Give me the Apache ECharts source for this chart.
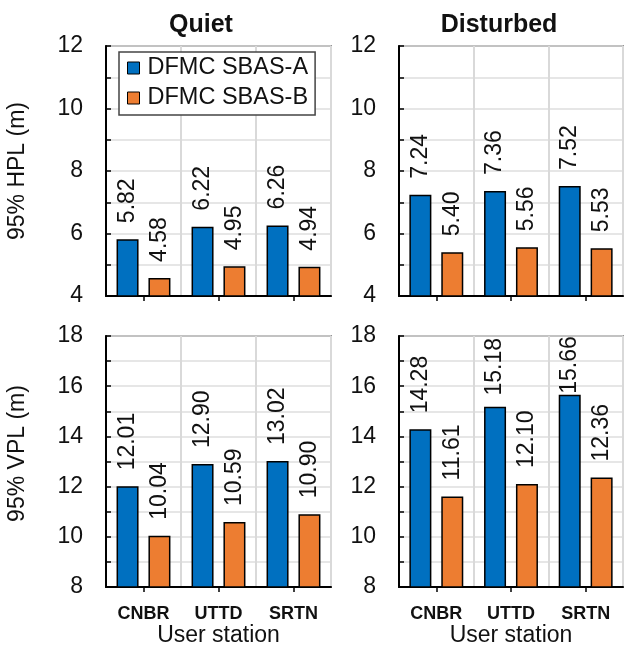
<!DOCTYPE html>
<html>
<head>
<meta charset="utf-8">
<script src="https://cdn.jsdelivr.net/npm/echarts@6/dist/echarts.min.js"></script>
<style>
html,body{margin:0;padding:0;background:#fff;}
#chart{width:625px;height:652px;}
</style>
</head>
<body>
<div id="chart"></div>
<script>
// ---- data ----
const stations = ['CNBR', 'UTTD', 'SRTN'];
const seriesNames = ['DFMC SBAS-A', 'DFMC SBAS-B'];
const panelTitles = ['Quiet', 'Disturbed'];
const quietHplA = [5.82, 6.22, 6.26];
const quietHplB = [4.58, 4.95, 4.94];
const disturbedHplA = [7.24, 7.36, 7.52];
const disturbedHplB = [5.40, 5.56, 5.53];
const quietVplA = [12.01, 12.90, 13.02];
const quietVplB = [10.04, 10.59, 10.90];
const disturbedVplA = [14.28, 15.18, 15.66];
const disturbedVplB = [11.61, 12.10, 12.36];
const hplTicks = [4, 6, 8, 10, 12];
const vplTicks = [8, 10, 12, 14, 16, 18];
const yNames = ['95% HPL (m)', '95% VPL (m)'];
const xName = 'User station';

const FONT = '"Liberation Sans", Arial, sans-serif';
const BLUE = '#0070C0';
const ORANGE = '#ED7D31';
const LABEL_SIZE = 23;
const LABEL_DIST = 16;

const grids = [
  {left: 106, top: 46, width: 225, height: 250},
  {left: 399, top: 46, width: 224, height: 250},
  {left: 106, top: 336, width: 225, height: 251},
  {left: 399, top: 336, width: 224, height: 251}
];

const panelData = [
  [quietHplA, quietHplB],
  [disturbedHplA, disturbedHplB],
  [quietVplA, quietVplB],
  [disturbedVplA, disturbedVplB]
];

const fmt = v => v.toFixed(2);

const xAxes = [], yAxes = [], series = [];
grids.forEach((g, i) => {
  const bottomRow = i >= 2;
  xAxes.push({
    type: 'category', gridIndex: i, data: stations,
    axisLine: {show: true, lineStyle: {color: '#000', width: 2}},
    axisTick: {show: true, alignWithLabel: true, inside: false, length: 5, lineStyle: {color: '#000', width: 1.5}},
    axisLabel: {show: bottomRow, margin: 18, fontFamily: FONT, fontSize: 18, fontWeight: 'bold', color: '#111'},
    splitLine: {show: true, lineStyle: {color: '#d9d9d9', width: 2}},
    name: bottomRow ? xName : '', nameLocation: 'middle', nameGap: 32,
    nameTextStyle: {fontFamily: FONT, fontSize: 23, color: '#111'}
  });
  const ticks = bottomRow ? vplTicks : hplTicks;
  yAxes.push({
    type: 'value', gridIndex: i,
    min: ticks[0], max: ticks[ticks.length - 1], interval: 1,
    axisLine: {show: true, lineStyle: {color: '#000', width: 2}},
    axisTick: {show: true, inside: true, length: 5, lineStyle: {color: '#000', width: 1.5}},
    axisLabel: {margin: 23, fontFamily: FONT, fontSize: 23, color: '#111',
      formatter: v => ticks.indexOf(v) >= 0 ? String(v) : ''},
    splitLine: {show: true, lineStyle: {color: '#dedede', width: 1.5}},
    name: (i % 2 === 0) ? yNames[bottomRow ? 1 : 0] : '',
    nameLocation: 'middle', nameGap: 77,
    nameTextStyle: {fontFamily: FONT, fontSize: 23, color: '#111',
      padding: bottomRow ? [0, 0, 0, 16] : 0}
  });
  panelData[i].forEach((vals, k) => {
    series.push({
      type: 'bar', name: seriesNames[k], xAxisIndex: i, yAxisIndex: i,
      data: vals.slice(), barWidth: 22, barGap: '45%',
      itemStyle: {color: k === 0 ? BLUE : ORANGE, borderColor: '#000', borderWidth: 1.5},
      label: {show: true, position: 'top', distance: LABEL_DIST, rotate: 90, align: 'left', verticalAlign: 'middle',
        fontFamily: FONT, fontSize: LABEL_SIZE, color: '#111', formatter: p => fmt(p.value)}
    });
  });
});

const chart = echarts.init(document.getElementById('chart'), null, {renderer: 'canvas'});
chart.setOption({
  animation: false,
  backgroundColor: '#fff',
  title: [
    {text: panelTitles[0], left: 196, top: 8, textAlign: 'center',
      textStyle: {fontFamily: FONT, fontSize: 25, fontWeight: 'bold', color: '#111'}},
    {text: panelTitles[1], left: 494, top: 8, textAlign: 'center',
      textStyle: {fontFamily: FONT, fontSize: 25, fontWeight: 'bold', color: '#111'}}
  ],
  grid: grids.map(g => Object.assign({show: true, borderColor: '#444', borderWidth: 1.5, backgroundColor: '#fff', containLabel: false}, g)),
  legend: {
    data: seriesNames, orient: 'vertical', left: 119, top: 52,
    padding: [4, 7, 5, 8], itemGap: 6, itemWidth: 12, itemHeight: 12,
    backgroundColor: '#fff', borderColor: '#444', borderWidth: 1.5, borderRadius: 0,
    icon: 'rect',
    textStyle: {fontFamily: FONT, fontSize: 23.5, color: '#111', padding: [0, 0, 0, 3]},
    itemStyle: {borderColor: '#000', borderWidth: 1}
  },
  xAxis: xAxes,
  yAxis: yAxes,
  series: series
});

// Second pass: keep value labels inside the plot frame (pull them down toward the bar when they would overflow)
const ctx = document.createElement('canvas').getContext('2d');
ctx.font = LABEL_SIZE + 'px ' + FONT;
const updated = [];
grids.forEach((g, i) => {
  panelData[i].forEach((vals) => {
    const data = vals.map((v, d) => {
      const barTop = chart.convertToPixel({gridIndex: i}, [d, v])[1];
      const len = ctx.measureText(fmt(v)).width;
      let dist = LABEL_DIST;
      if (barTop - dist - len < g.top + 2) dist = Math.max(1, barTop - len - (g.top + 2));
      return {value: v, label: {distance: dist}};
    });
    updated.push({data: data});
  });
});
chart.setOption({series: updated});
</script>
</body>
</html>
